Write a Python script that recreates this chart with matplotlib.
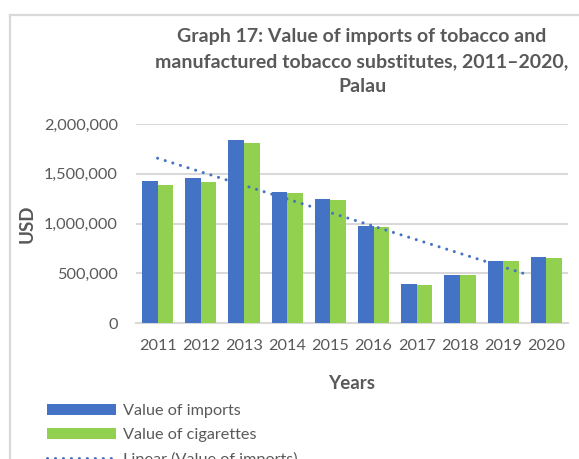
import matplotlib.pyplot as plt
from matplotlib.lines import Line2D
import numpy as np

years = ['2011', '2012', '2013', '2014', '2015', '2016', '2017', '2018', '2019', '2020']
imports = [1430000, 1457000, 1835000, 1317000, 1244000, 979000, 391000, 484000, 628000, 662000]
cigarettes = [1388000, 1417000, 1805000, 1307000, 1242000, 966000, 384000, 484000, 625000, 660000]
yticks = [0, 500000, 1000000, 1500000, 2000000]

BLUE = '#4472C4'
GREEN = '#92D050'
GREY_TEXT = '#595959'
GRID = '#D9D9D9'

plt.rcParams['font.family'] = ['Lato', 'DejaVu Sans']

W, H = 579, 459
fig = plt.figure(figsize=(W / 100, H / 100), dpi=100)

# plot area in pixel terms
left, right, top, bottom = 136, 568, 124, 323.3
ax = fig.add_axes([left / W, 1 - bottom / H, (right - left) / W, (bottom - top) / H])

x = np.arange(len(years))
bw = 0.363
b1 = ax.bar(x - bw / 2, imports, bw, color=BLUE, zorder=3, label='Value of imports')
b2 = ax.bar(x + bw / 2, cigarettes, bw, color=GREEN, zorder=3, label='Value of cigarettes')

# linear trendline of imports, as Excel draws it
slope, icpt = np.polyfit(x, imports, 1)
xt = np.linspace(0, 8.57, 50)
tl, = ax.plot(xt, slope * xt + icpt, color=BLUE, lw=2.2, dashes=(0.01, 2.6),
              dash_capstyle='round', zorder=4, label='Linear (Value of imports)')

ax.set_xlim(-0.5, len(years) - 0.5)
ax.set_ylim(0, 2000000)
ax.set_yticks(yticks)
ax.set_yticklabels([f'{v:,}' for v in yticks])
ax.set_xticks(x)
ax.set_xticklabels(years)
ax.tick_params(length=0, labelsize=11.7, colors=GREY_TEXT)
ax.tick_params(axis='y', pad=13)
ax.tick_params(axis='x', pad=11)
ax.grid(axis='y', color=GRID, lw=1.5, zorder=0)
for s in ['top', 'right', 'left']:
    ax.spines[s].set_visible(False)
ax.spines['bottom'].set_color(GRID)
ax.spines['bottom'].set_linewidth(1.5)

ax.set_ylabel('USD', fontsize=13.5, fontweight='bold', color=GREY_TEXT, labelpad=6)
ax.set_xlabel('Years', fontsize=13.5, fontweight='bold', color=GREY_TEXT, labelpad=16)

fig.text(362 / W, 1 - 61.5 / H,
         'Graph 17: Value of imports of tobacco and\nmanufactured tobacco substitutes, 2011\u20132020,\nPalau',
         ha='center', va='center', fontsize=14, fontweight='bold', color=GREY_TEXT,
         linespacing=1.58)

leg = fig.legend([b1, b2, tl], ['Value of imports', 'Value of cigarettes', 'Linear (Value of imports)'],
                 loc='upper left', bbox_to_anchor=(32 / W, 1 - 389 / H),
                 frameon=False, fontsize=11.7, handlelength=4.3, handleheight=0.68,
                 labelspacing=0.6, handletextpad=0.4, labelcolor=GREY_TEXT)

# chart area border (cropped at right and bottom)
fig.add_artist(Line2D([9.5 / W, 9.5 / W], [0, 1 - 14.5 / H], color=GRID, lw=1.6))
fig.add_artist(Line2D([9.5 / W, 1], [1 - 14.5 / H, 1 - 14.5 / H], color=GRID, lw=1.6))

fig.savefig('out.png', dpi=100)
